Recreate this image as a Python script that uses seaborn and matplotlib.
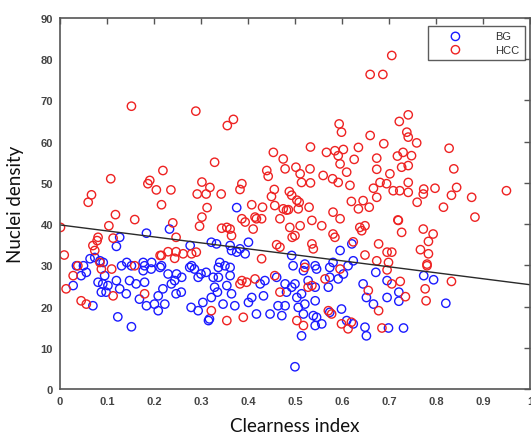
import pandas as pd
import matplotlib
matplotlib.use("Agg")
import matplotlib.pyplot as plt
import seaborn as sns

sns.set_style("white")
plt.rcParams['font.family'] = ['Liberation Sans Narrow', 'Liberation Sans', 'DejaVu Sans']

# BG (background) points: clearness index, nuclei density
bg_x = [0.184, 0.233, 0.127, 0.120, 0.322, 0.277, 0.362, 0.401, 0.376,
        0.333, 0.340, 0.351, 0.365, 0.383, 0.394, 0.376, 0.493, 0.521, 0.596,
        0.621, 0.581, 0.624, 0.543,
        0.337, 0.362, 0.337, 0.362, 0.355, 0.335, 0.365, 0.347, 0.372, 0.401,
        0.408, 0.433, 0.418, 0.447, 0.472, 0.479, 0.464, 0.482, 0.493, 0.504,
        0.514, 0.507, 0.518, 0.521, 0.543, 0.539, 0.557, 0.543, 0.574, 0.574,
        0.592, 0.603, 0.571, 0.599, 0.610, 0.624, 0.645, 0.652, 0.649, 0.652,
        0.514, 0.500, 0.496, 0.518, 0.546, 0.574, 0.613, 0.426, 0.436, 0.461,
        0.479, 0.500, 0.528, 0.543,
        0.035, 0.045, 0.028, 0.081, 0.088, 0.102, 0.120, 0.127, 0.141, 0.148,
        0.162, 0.169, 0.184, 0.177, 0.180, 0.194, 0.209, 0.201, 0.219, 0.223,
        0.209, 0.216, 0.230, 0.237, 0.244, 0.247, 0.258, 0.276, 0.286, 0.294,
        0.300, 0.311, 0.279, 0.294, 0.304, 0.322, 0.326, 0.329, 0.318, 0.070,
        0.123, 0.152, 0.091, 0.095, 0.056, 0.131, 0.152, 0.180, 0.098,
        0.050, 0.064, 0.074, 0.085, 0.092, 0.142, 0.177, 0.195, 0.213, 0.248,
        0.259, 0.280,
        0.672, 0.696, 0.721, 0.696, 0.721, 0.667, 0.774, 0.795, 0.821, 0.699,
        0.731, 0.316, 0.546]
bg_y = [37.8, 38.8, 36.8, 34.6, 35.6, 34.8, 34.8, 35.6, 44.0,
        35.2, 30.7, 29.9, 33.6, 34.0, 32.8, 33.2, 32.4, 30.3, 33.6,
        35.2, 30.7, 31.1, 29.9,
        29.5, 29.5, 27.1, 27.5, 25.1, 23.5, 23.1, 20.6, 20.2, 21.0,
        22.2, 22.6, 18.2, 18.2, 17.8, 20.2, 20.2, 23.5, 24.7, 22.2,
        23.1, 19.8, 18.2, 20.6, 21.4, 17.8, 15.8, 15.4, 18.6, 27.1,
        26.7, 27.9, 24.7, 19.4, 16.6, 15.8, 25.5, 22.2, 15.0, 12.9,
        12.9, 5.4, 29.9, 28.7, 29.1, 29.5, 29.9, 25.5, 26.3, 27.1,
        25.5, 25.5, 26.3, 24.7,
        29.9, 27.5, 25.1, 25.9, 23.5, 25.1, 26.3, 24.3, 23.1, 26.3,
        25.5, 21.8, 20.2, 28.7, 25.9, 29.1, 22.6, 20.6, 24.3, 20.6,
        19.0, 29.9, 27.9, 25.5, 26.3, 23.1, 23.5, 29.5, 29.1, 27.1,
        27.9, 28.3, 19.8, 19.0, 21.0, 22.2, 27.1, 24.7, 17.0, 20.2,
        17.5, 15.1, 25.5, 27.5, 28.3, 29.9, 29.9, 29.9, 23.5,
        29.9, 31.6, 31.9, 31.1, 30.7, 30.7, 30.7, 30.7, 29.5, 27.9,
        27.1, 29.9,
        28.3, 26.3, 23.5, 22.2, 21.3, 20.6, 27.5, 26.5, 20.8, 14.8,
        14.8, 16.6, 17.4]

# HCC points
hcc_x = [0.152, 0.289, 0.369, 0.356, 0.706, 0.660, 0.687, 0.741, 0.722, 0.594,
         0.599, 0.660, 0.738, 0.741, 0.759, 0.689, 0.533, 0.567, 0.585, 0.603,
         0.635, 0.828, 0.475, 0.502, 0.479, 0.592, 0.596, 0.610, 0.626, 0.674,
         0.674, 0.718, 0.730, 0.748, 0.727, 0.741, 0.702, 0.838, 0.511, 0.532,
         0.560, 0.533, 0.514, 0.580, 0.592, 0.617, 0.667, 0.681, 0.695, 0.709,
         0.723, 0.741, 0.741, 0.774, 0.798, 0.760, 0.773, 0.844, 0.950, 0.876,
         0.833, 0.816, 0.883, 0.482, 0.509, 0.507, 0.530, 0.536, 0.557, 0.581,
         0.596, 0.620, 0.635, 0.645, 0.658, 0.674, 0.720, 0.727, 0.773, 0.794,
         0.638, 0.649,
         0.329, 0.219, 0.108, 0.191, 0.187, 0.205, 0.236, 0.067, 0.060, 0.216,
         0.302, 0.319, 0.292, 0.311, 0.313, 0.118, 0.159, 0.302, 0.297, 0.240,
         0.104, 0.001, 0.081, 0.079, 0.113, 0.247, 0.070, 0.074, 0.009, 0.230,
         0.247, 0.216, 0.244, 0.290,
         0.454, 0.440, 0.443, 0.387, 0.383, 0.343, 0.456, 0.450, 0.488, 0.493,
         0.504, 0.408, 0.431, 0.457, 0.475, 0.486, 0.387, 0.394, 0.415, 0.418,
         0.429, 0.468, 0.344, 0.355, 0.362, 0.365, 0.411, 0.489, 0.511, 0.494,
         0.500, 0.581, 0.585, 0.461, 0.468, 0.536, 0.539, 0.642, 0.429, 0.649,
         0.624,
         0.719, 0.784, 0.767, 0.784, 0.781, 0.678, 0.696, 0.706, 0.674, 0.699,
         0.696, 0.781, 0.724, 0.706, 0.735, 0.777, 0.779, 0.833, 0.678, 0.685,
         0.387, 0.397, 0.383, 0.415, 0.457, 0.468, 0.521, 0.536, 0.528, 0.564,
         0.571, 0.578, 0.599, 0.613, 0.620, 0.355, 0.390, 0.504, 0.518, 0.656,
         0.596,
         0.013, 0.028, 0.045, 0.056, 0.113, 0.180, 0.088, 0.110, 0.159, 0.038,
         0.322, 0.085, 0.213, 0.262, 0.280]
hcc_y = [68.6, 67.4, 65.4, 63.9, 80.9, 76.3, 76.3, 66.5, 64.9, 64.3,
         62.3, 61.5, 62.3, 61.1, 59.7, 59.5, 58.7, 57.4, 57.8, 58.1,
         58.6, 58.4, 55.8, 53.8, 53.4, 56.6, 54.6, 52.6, 55.7, 56.0,
         53.3, 56.5, 57.4, 56.6, 53.8, 54.2, 52.2, 53.4, 52.2, 53.4,
         51.8, 50.0, 50.1, 51.0, 50.1, 49.4, 48.7, 50.1, 49.8, 48.1,
         48.1, 50.1, 47.7, 48.5, 48.7, 45.3, 47.3, 48.9, 48.1, 46.5,
         47.0, 44.1, 41.7, 43.4, 45.3, 43.7, 44.1, 40.9, 39.6, 42.9,
         41.3, 45.5, 43.7, 45.7, 44.1, 46.5, 40.9, 38.0, 38.8, 37.6,
         39.2, 39.6,
         55.0, 53.0, 51.0, 50.6, 49.8, 48.3, 48.3, 47.1, 45.3, 44.7,
         50.2, 48.9, 47.3, 47.3, 44.0, 42.3, 41.1, 41.7, 39.5, 40.3,
         39.6, 39.2, 36.8, 36.0, 36.6, 36.8, 34.8, 33.6, 32.5, 33.3,
         33.3, 32.4, 31.7, 33.2,
         57.4, 53.0, 51.6, 49.8, 48.4, 47.3, 48.4, 46.7, 47.9, 47.0,
         45.8, 44.7, 44.1, 44.5, 43.7, 43.5, 41.3, 40.5, 41.7, 41.3,
         41.3, 41.3, 39.0, 39.2, 38.8, 37.2, 38.8, 39.2, 39.6, 36.8,
         37.2, 37.6, 36.8, 35.0, 34.4, 35.2, 34.0, 38.4, 31.6, 32.5,
         35.7,
         41.0, 35.8, 33.8, 32.8, 30.3, 35.2, 33.2, 33.2, 31.1, 30.7,
         28.9, 29.9, 26.1, 25.5, 22.4, 24.3, 21.4, 26.1, 19.0, 14.8,
         26.3, 25.9, 25.5, 26.7, 27.5, 23.5, 29.5, 25.1, 24.7, 26.7,
         19.0, 18.2, 15.8, 14.6, 16.2, 16.6, 17.4, 16.6, 15.4, 23.9,
         29.1,
         24.3, 27.5, 21.4, 20.6, 22.6, 23.1, 29.1, 29.1, 29.9, 29.9,
         19.0, 30.7, 32.4, 32.8, 32.8]

# fitted separation line
fit_x = [0.0, 1.0]
fit_y = [39.8, 25.3]

bg = pd.DataFrame({'x': bg_x, 'y': bg_y})
hcc = pd.DataFrame({'x': hcc_x, 'y': hcc_y})

fig = plt.figure(figsize=(5.31, 4.35), dpi=100)
ax = fig.add_axes([0.113, 0.1034, 0.885, 0.853])

sns.scatterplot(data=bg, x='x', y='y', ax=ax, color='#1a1aff', facecolor='none',
                edgecolor='#1a1aff', linewidth=1.0, s=36, label='BG')
sns.scatterplot(data=hcc, x='x', y='y', ax=ax, color='#ee2222', facecolor='none',
                edgecolor='#ee2222', linewidth=1.0, s=36, label='HCC')
sns.lineplot(x=fit_x, y=fit_y, ax=ax, color='#2a2a2a', linewidth=1.0)

ax.set_xlim(0, 1)
ax.set_ylim(0, 90)
ax.set_xticks([i / 10 for i in range(11)])
ax.set_xticklabels(['0'] + ['0.%d' % i for i in range(1, 10)] + ['1'])
ax.set_yticks(range(0, 91, 10))
ax.tick_params(direction='in', length=4, width=1, top=True, right=True,
               colors='#555555', labelcolor='#444444', labelsize=8, pad=5)
for lab in ax.get_xticklabels() + ax.get_yticklabels():
    lab.set_fontweight('bold')
for sp in ax.spines.values():
    sp.set_color('#555555')
    sp.set_linewidth(1.2)

ax.set_xlabel('Clearness index', family=['Lato', 'DejaVu Sans'], fontsize=13.5,
              color='#111111', labelpad=8)
ax.set_ylabel('Nuclei density', family=['Lato', 'DejaVu Sans'], fontsize=13.5,
              color='#111111', labelpad=12)

leg = ax.legend(loc='upper right', bbox_to_anchor=(0.990, 0.979), borderaxespad=0,
                frameon=True, fancybox=False, fontsize=8, handletextpad=1.6,
                borderpad=0.5, labelspacing=0.3, handlelength=4.0,
                markerfirst=True)
leg.get_frame().set_edgecolor('#333333')
leg.get_frame().set_linewidth(1.0)
for t in leg.get_texts():
    t.set_family(['Liberation Sans', 'DejaVu Sans'])
    t.set_color('#333333')

fig.savefig('out.png', dpi=100)
